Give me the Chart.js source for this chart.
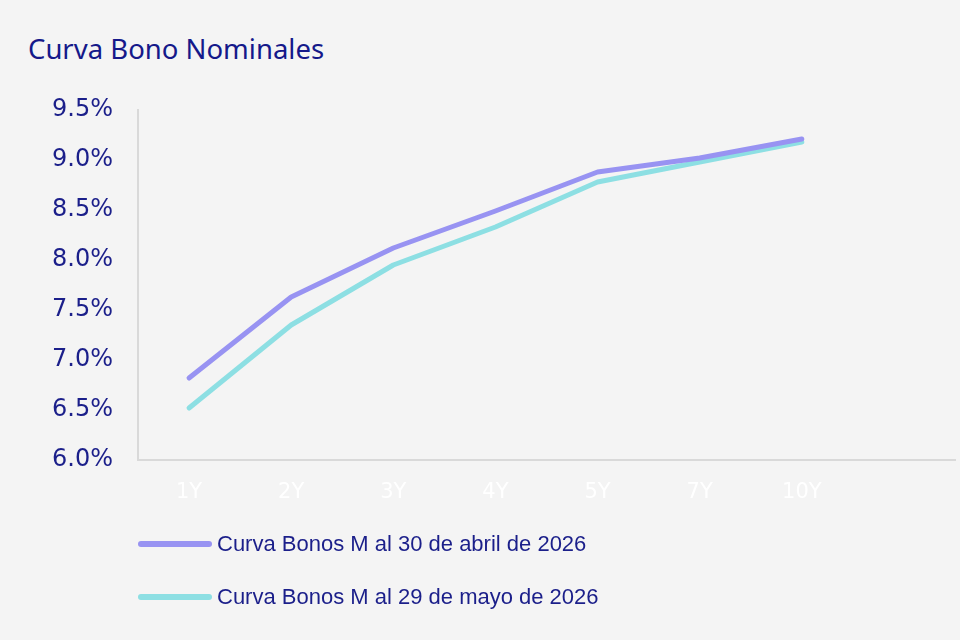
<!DOCTYPE html>
<html>
<head>
<meta charset="utf-8">
<script src="https://cdn.jsdelivr.net/npm/chart.js@4/dist/chart.umd.min.js"></script>
<style>
    html, body { margin: 0; padding: 0; background: #f4f4f4; }
    #wrap { position: relative; width: 960px; height: 640px; }
    #title { position: absolute; left: 28px; top: 30px; font-family: "Noto Sans", sans-serif; font-size: 27.5px; color: #15198a; white-space: nowrap; }
    #chart { position: absolute; left: 0; top: 0; }
    #legend { position: absolute; left: 138px; top: 526px; font-family: "Liberation Sans", Arial, sans-serif; font-size: 22px; color: #1b1f8a; }
    #legend .item { display: flex; align-items: center; height: 36px; margin-bottom: 17px; }
    #legend .swatch { width: 74px; height: 6px; border-radius: 3px; margin-right: 5px; }
</style>
</head>
<body>
<div id="wrap">
    <div id="title">Curva Bono Nominales</div>
    <canvas id="chart" width="960" height="640"></canvas>
    <div id="legend"></div>
</div>
<script>
    // plazos (last slot left empty, as in the original)
    const plazos = ["1Y", "2Y", "3Y", "4Y", "5Y", "7Y", "10Y", ""];
    const abril = [6.82, 7.63, 8.12, 8.49, 8.88, 9.02, 9.21, null];
    const mayo = [6.52, 7.35, 7.95, 8.33, 8.78, 8.98, 9.18, null];
    const serieNames = ["Curva Bonos M al 30 de abril de 2026", "Curva Bonos M al 29 de mayo de 2026"];
    const colores = ["#9893f2", "#8ddfe3"];

    (function () {
        "use strict";
        let context = document.getElementById("chart").getContext("2d");
        let navy = "#1b1f8a";
        let chart = new Chart(context, {
            type: "line",
            data: {
                labels: plazos,
                datasets: [abril, mayo].map((values, i) => ({
                    label: serieNames[i],
                    data: values,
                    borderColor: colores[i],
                    backgroundColor: colores[i],
                    borderWidth: 5,
                    borderCapStyle: "round",
                    borderJoinStyle: "round",
                    pointRadius: 0,
                    tension: 0
                }))
            },
            options: {
                responsive: false,
                animation: false,
                layout: { padding: { top: 110, right: 5, bottom: 0, left: 0 } },
                plugins: {
                    legend: { display: false },
                    tooltip: { enabled: false }
                },
                scales: {
                    x: {
                        offset: true,
                        grid: { display: false, drawTicks: false },
                        border: { display: true, color: "#d9d9d9", width: 2 },
                        ticks: {
                            color: "#ffffff",
                            padding: 20,
                            font: { family: "DejaVu Sans", size: 21 },
                            maxRotation: 0
                        },
                        afterFit: scale => { scale.height = 180; }
                    },
                    y: {
                        min: 6,
                        max: 9.5,
                        grid: { display: false, drawTicks: false },
                        border: { display: true, color: "#d9d9d9", width: 2 },
                        ticks: {
                            stepSize: 0.5,
                            color: navy,
                            padding: 25,
                            font: { family: "DejaVu Sans", size: 24 },
                            callback: v => v.toFixed(1) + "%"
                        },
                        afterFit: scale => { scale.width = 138; }
                    }
                }
            }
        });

        let legend = document.getElementById("legend");
        chart.data.datasets.forEach(ds => {
            let item = document.createElement("div");
            item.className = "item";
            let sw = document.createElement("span");
            sw.className = "swatch";
            sw.style.background = ds.borderColor;
            let txt = document.createElement("span");
            txt.textContent = ds.label;
            item.appendChild(sw);
            item.appendChild(txt);
            legend.appendChild(item);
        });
    })();
</script>
</body>
</html>
